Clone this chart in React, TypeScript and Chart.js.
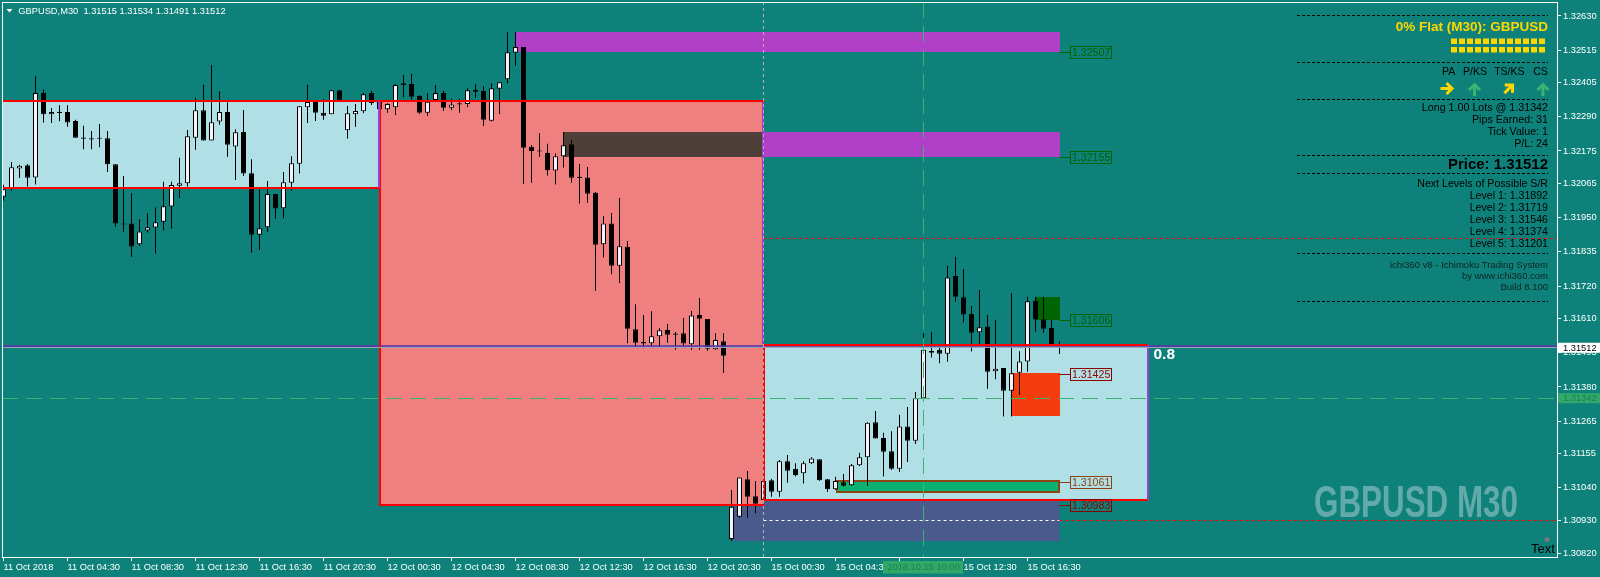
import React, { useEffect, useRef } from 'react';
import { Chart, registerables } from 'chart.js';

Chart.register(...registerables);

// ---- candle data (GBPUSD M30), bar index 0 = 11 Oct 00:30 ----
const opens = [1.32021,1.32046,1.32116,1.32127,1.32086,1.32370,1.32299,1.32304,1.32306,1.32276,
 1.32220,1.32217,1.32217,1.32218,1.32130,1.31930,1.31931,1.31861,1.31907,1.31917,
 1.31937,1.31988,1.32058,1.32066,1.32220,1.32312,1.32210,1.32274,1.32306,1.32190,
 1.32239,1.32100,1.31893,1.31918,1.32030,1.31982,1.32068,1.32132,1.32322,1.32340,
 1.32304,1.32299,1.32380,1.32245,1.32299,1.32309,1.32370,1.32340,1.32316,1.32322,
 1.32397,1.32401,1.32360,1.32304,1.32347,1.32370,1.32321,1.32333,1.32333,1.32381,
 1.32377,1.32277,1.32385,1.32417,1.32506,1.32525,1.32189,1.32176,1.32168,1.32109,
 1.32157,1.32198,1.32087,1.32086,1.32034,1.31861,1.31931,1.31788,1.31852,1.31574,
 1.31531,1.31527,1.31551,1.31572,1.31559,1.31561,1.31524,1.31622,1.31609,1.31507,
 1.31534,1.30868,1.30943,1.31069,1.31012,1.30999,1.31066,1.31027,1.31130,1.31104,
 1.31089,1.31123,1.31136,1.31069,1.31035,1.31059,1.31049,1.31116,1.31143,1.31261,
 1.31208,1.31163,1.31104,1.31247,1.31199,1.31342,1.31501,1.31505,1.31492,1.31754,
 1.31682,1.31626,1.31564,1.31584,1.31433,1.31444,1.31367,1.31428,1.31466,1.31670,
 1.31608,1.31579,1.31515];
const highs = [1.32061,1.32138,1.32129,1.32131,1.32428,1.32383,1.32320,1.32329,1.32329,1.32280,
 1.32260,1.32242,1.32266,1.32242,1.32130,1.32091,1.32033,1.31945,1.31965,1.31985,
 1.32071,1.32071,1.32152,1.32246,1.32354,1.32398,1.32465,1.32376,1.32339,1.32248,
 1.32313,1.32147,1.32048,1.32074,1.32030,1.32104,1.32157,1.32326,1.32398,1.32340,
 1.32350,1.32380,1.32380,1.32327,1.32333,1.32370,1.32378,1.32343,1.32336,1.32401,
 1.32431,1.32435,1.32363,1.32370,1.32397,1.32378,1.32351,1.32351,1.32386,1.32401,
 1.32394,1.32403,1.32407,1.32575,1.32575,1.32525,1.32194,1.32235,1.32199,1.32167,
 1.32239,1.32212,1.32131,1.32121,1.32037,1.31956,1.31966,1.32017,1.31872,1.31659,
 1.31622,1.31635,1.31579,1.31592,1.31565,1.31612,1.31636,1.31680,1.31609,1.31561,
 1.31561,1.31033,1.31075,1.31097,1.31063,1.31063,1.31071,1.31134,1.31151,1.31123,
 1.31130,1.31143,1.31136,1.31071,1.31077,1.31087,1.31120,1.31158,1.31261,1.31299,
 1.31226,1.31231,1.31286,1.31312,1.31363,1.31561,1.31566,1.31516,1.31788,1.31819,
 1.31777,1.31653,1.31707,1.31622,1.31606,1.31444,1.31696,1.31500,1.31684,1.31684,
 1.31684,1.31606,1.31534];
const lows = [1.32008,1.32041,1.32084,1.32055,1.32062,1.32271,1.32269,1.32275,1.32257,1.32220,
 1.32181,1.32181,1.32188,1.32104,1.31920,1.31902,1.31819,1.31855,1.31900,1.31830,
 1.31907,1.31913,1.32017,1.32055,1.32179,1.32210,1.32210,1.32263,1.32156,1.32077,
 1.32091,1.31832,1.31841,1.31902,1.31947,1.31948,1.32041,1.32099,1.32269,1.32276,
 1.32280,1.32299,1.32345,1.32217,1.32257,1.32302,1.32330,1.32316,1.32304,1.32296,
 1.32356,1.32347,1.32300,1.32293,1.32347,1.32311,1.32313,1.32304,1.32322,1.32354,
 1.32259,1.32274,1.32300,1.32403,1.32462,1.32064,1.32068,1.32156,1.32092,1.32062,
 1.32119,1.32068,1.31998,1.32001,1.31704,1.31816,1.31760,1.31730,1.31527,1.31511,
 1.31510,1.31516,1.31511,1.31529,1.31505,1.31516,1.31505,1.31505,1.31502,1.31505,
 1.31428,1.30861,1.30939,1.30939,1.30954,1.30999,1.31010,1.31010,1.31057,1.31078,
 1.31055,1.31120,1.31064,1.31026,1.31033,1.31044,1.31046,1.31114,1.31046,1.31206,
 1.31078,1.31100,1.31093,1.31127,1.31188,1.31342,1.31479,1.31460,1.31465,1.31667,
 1.31597,1.31499,1.31525,1.31374,1.31406,1.31280,1.31280,1.31353,1.31431,1.31566,
 1.31563,1.31525,1.31491];
const closes = [1.32046,1.32120,1.32125,1.32085,1.32370,1.32299,1.32306,1.32306,1.32271,1.32220,
 1.32217,1.32215,1.32219,1.32130,1.31931,1.31928,1.31853,1.31904,1.31918,1.31935,
 1.31989,1.32060,1.32066,1.32225,1.32312,1.32210,1.32272,1.32306,1.32196,1.32238,
 1.32099,1.31893,1.31915,1.32030,1.31981,1.32070,1.32134,1.32326,1.32340,1.32304,
 1.32294,1.32380,1.32345,1.32302,1.32310,1.32366,1.32337,1.32316,1.32333,1.32397,
 1.32403,1.32358,1.32304,1.32341,1.32370,1.32321,1.32332,1.32335,1.32380,1.32375,
 1.32280,1.32386,1.32407,1.32508,1.32525,1.32186,1.32175,1.32174,1.32111,1.32157,
 1.32194,1.32085,1.32085,1.32031,1.31859,1.31931,1.31788,1.31854,1.31576,1.31529,
 1.31526,1.31551,1.31571,1.31556,1.31557,1.31526,1.31621,1.31610,1.31509,1.31538,
 1.31485,1.30976,1.31075,1.31010,1.30986,1.31063,1.31027,1.31130,1.31098,1.31083,
 1.31123,1.31139,1.31066,1.31035,1.31063,1.31047,1.31116,1.31143,1.31259,1.31206,
 1.31162,1.31104,1.31247,1.31199,1.31342,1.31505,1.31495,1.31492,1.31749,1.31684,
 1.31624,1.31563,1.31581,1.31431,1.31441,1.31367,1.31426,1.31466,1.31669,1.31607,
 1.31576,1.31525,1.31512];

// ---- axes ----
const xTickBars = [0, 8, 16, 24, 32, 40, 48, 56, 64, 72, 80, 88, 96, 104, 112, 120, 128];
const xTickLabels = ['11 Oct 2018', '11 Oct 04:30', '11 Oct 08:30', '11 Oct 12:30', '11 Oct 16:30',
  '11 Oct 20:30', '12 Oct 00:30', '12 Oct 04:30', '12 Oct 08:30', '12 Oct 12:30', '12 Oct 16:30',
  '12 Oct 20:30', '15 Oct 00:30', '15 Oct 04:30', '15 Oct 08:30', '15 Oct 12:30', '15 Oct 16:30'];
const yTickValues = [1.32630, 1.32515, 1.32405, 1.32290, 1.32175, 1.32065, 1.31950, 1.31835,
  1.31720, 1.31610, 1.31495, 1.31380, 1.31265, 1.31155, 1.31040, 1.30930, 1.30820];
const yMin = 1.30807;
const yMax = 1.32677;
const xMin = -0.1875;
const xMax = 194.1875;

// ---- framed boxes (left blue, salmon, right blue) ----
const frameStart = [-2, 47, 95];
const frameEnd = [47, 95, 143];
const frameTop = [1.32342, 1.32342, 1.31520];
const frameBottom = [1.32050, 1.30982, 1.30998];
const frameFill = ['#b0e0e6', '#f08080', '#b0e0e6'];

// ---- slate zone behind ----
const slateStart = 91.2;
const slateEnd = 132;
const slateTop = 1.30996;
const slateBottom = 1.30861;

// ---- supply / demand zones ----
const zoneStart = [64, 95, 70, 129, 126, 104];
const zoneEnd = [132, 132, 95, 132, 132, 132];
const zoneTop = [1.32576, 1.32238, 1.32238, 1.31683, 1.31427, 1.31065];
const zoneBottom = [1.32507, 1.32155, 1.32155, 1.31606, 1.31283, 1.31022];
const zoneFill = ['#b040c6', '#b040c6', '#4e4038', '#006400', '#f43c0e', '#0ab170'];
const zoneBorder = ['', '', '', '', '', '#8b4513'];

// ---- price tags ----
const tagPrices = [1.32507, 1.32155, 1.31606, 1.31425, 1.31061, 1.30983];
const tagColors = ['#006400', '#006400', '#006400', '#8b0000', '#8b4513', '#8b0000'];

// ---- levels ----
const lastBar = 132;
const separatorBar = 95;
const crosshairBar = 115;
const fibLevel = 1.31518;
const fibText = '0.8';
const bidPrice = 1.31512;
const entryPrice = 1.31342;
const resistDashed = 1.31882;
const lowDashed = 1.30930;
const header = ['GBPUSD,M30', '1.31515', '1.31534', '1.31491', '1.31512'];
const srLevels = [1.31892, 1.31719, 1.31546, 1.31374, 1.31201];

const FONT = "'Liberation Sans', Arial, sans-serif";
const BG = '#0e827a';

function seg(ctx: any, x1: number, y1: number, x2: number, y2: number, color: string, w: number, dash: number[] = []) {
  ctx.save();
  ctx.strokeStyle = color;
  ctx.lineWidth = w;
  ctx.setLineDash(dash);
  ctx.beginPath();
  ctx.moveTo(x1, y1);
  ctx.lineTo(x2, y2);
  ctx.stroke();
  ctx.restore();
}

function arrow(ctx: any, cx: number, cy: number, ang: number, color: string) {
  ctx.save();
  ctx.translate(cx, cy);
  ctx.rotate(ang);
  ctx.strokeStyle = color;
  ctx.lineWidth = 3;
  ctx.lineCap = 'butt';
  ctx.lineJoin = 'miter';
  ctx.beginPath();
  ctx.moveTo(-6.5, 0);
  ctx.lineTo(5, 0);
  ctx.stroke();
  ctx.beginPath();
  ctx.moveTo(-0.5, -5.5);
  ctx.lineTo(5, 0);
  ctx.lineTo(-0.5, 5.5);
  ctx.stroke();
  ctx.restore();
}

function drawPanel(ctx: any) {
  const R = 1548;
  const dash = (yy: number) => seg(ctx, 1297, yy, R, yy, '#000', 1, [3, 2]);
  ctx.save();
  ctx.textAlign = 'right';
  ctx.textBaseline = 'middle';
  dash(15.5);
  ctx.fillStyle = '#ffd700';
  ctx.font = `bold 13.5px ${FONT}`;
  ctx.fillText('0% Flat (M30): GBPUSD', R, 27.5);
  for (let r = 0; r < 2; r++) {
    for (let k = 0; k < 12; k++) {
      ctx.fillRect(1451 + 8 * k, 38.5 + r * 8.5, 6, 5.5);
    }
  }
  dash(62.5);
  ctx.fillStyle = '#000';
  ctx.font = `10.5px ${FONT}`;
  ctx.textAlign = 'center';
  ctx.fillText('PA', 1448.7, 72.5);
  ctx.fillText('P/KS', 1475, 72.5);
  ctx.fillText('TS/KS', 1509.3, 72.5);
  ctx.fillText('CS', 1540.5, 72.5);
  arrow(ctx, 1447, 88.5, 0, '#ffd700');
  arrow(ctx, 1474.5, 89.5, -Math.PI / 2, '#3cb371');
  arrow(ctx, 1509, 88.5, -Math.PI / 4, '#ffd700');
  arrow(ctx, 1543, 89.5, -Math.PI / 2, '#3cb371');
  dash(99.5);
  ctx.textAlign = 'right';
  ctx.font = `10.7px ${FONT}`;
  ctx.fillText('Long 1.00 Lots @ ' + entryPrice.toFixed(5), R, 108.5);
  ctx.fillText('Pips Earned: 31', R, 120.3);
  ctx.fillText('Tick Value: 1', R, 132.2);
  ctx.fillText('P/L: 24', R, 144);
  dash(155.5);
  ctx.font = `bold 15px ${FONT}`;
  ctx.fillText('Price: ' + bidPrice.toFixed(5), R, 164.5);
  dash(173.5);
  ctx.font = `10.6px ${FONT}`;
  ctx.fillText('Next Levels of Possible S/R', R, 184.3);
  srLevels.forEach((lv, k) => ctx.fillText(`Level ${k + 1}: ${lv.toFixed(5)}`, R, 196.3 + 12 * k));
  dash(253.5);
  ctx.fillStyle = '#102222';
  ctx.font = `9.5px ${FONT}`;
  ctx.fillText('ichi360 v8 - Ichimoku Trading System', R, 265.3);
  ctx.fillText('by www.ichi360.com', R, 276.7);
  ctx.fillText('Build 8.100', R, 287);
  dash(301.5);
  ctx.restore();
}

const overlay = {
  id: 'overlay',
  beforeDraw(chart: any) {
    const { ctx, width, height } = chart;
    ctx.save();
    ctx.fillStyle = BG;
    ctx.fillRect(0, 0, width, height);
    ctx.restore();
  },
  beforeDatasetsDraw(chart: any) {
    const { ctx, chartArea: ca, scales } = chart;
    const X = (v: number) => scales.x.getPixelForValue(v);
    const Y = (v: number) => scales.y.getPixelForValue(v);
    ctx.save();
    ctx.beginPath();
    ctx.rect(ca.left, ca.top, ca.right - ca.left, ca.bottom - ca.top);
    ctx.clip();
    // watermark
    ctx.save();
    ctx.font = `bold 44px ${FONT}`;
    const w = ctx.measureText('GBPUSD M30').width;
    ctx.translate(1314, 517);
    ctx.scale(204 / w, 1);
    ctx.fillStyle = '#63abaa';
    ctx.textBaseline = 'alphabetic';
    ctx.fillText('GBPUSD M30', 0, 0);
    ctx.restore();
    // slate
    ctx.fillStyle = '#4b5a8c';
    ctx.fillRect(X(slateStart), Y(slateTop), X(slateEnd) - X(slateStart), Y(slateBottom) - Y(slateTop));
    for (let k = 0; k < frameStart.length; k++) {
      ctx.fillStyle = frameFill[k];
      const x1 = X(frameStart[k]), x2 = X(frameEnd[k]);
      const y1 = Y(frameTop[k]), y2 = Y(frameBottom[k]);
      ctx.fillRect(x1, y1, x2 - x1, y2 - y1);
    }
    for (let k = 0; k < zoneStart.length; k++) {
      const x1 = Math.round(X(zoneStart[k])), x2 = Math.round(X(zoneEnd[k]));
      const y1 = Math.round(Y(zoneTop[k])), y2 = Math.round(Y(zoneBottom[k]));
      ctx.fillStyle = zoneFill[k];
      ctx.fillRect(x1, y1, x2 - x1, y2 - y1);
      if (zoneBorder[k]) {
        ctx.strokeStyle = zoneBorder[k];
        ctx.lineWidth = 2;
        ctx.strokeRect(x1 + 1, y1 + 1, x2 - x1 - 2, y2 - y1 - 2);
      }
    }
    ctx.restore();
  },
  afterDatasetsDraw(chart: any) {
    const { ctx, chartArea: ca, scales } = chart;
    const X = (v: number) => scales.x.getPixelForValue(v);
    const Y = (v: number) => scales.y.getPixelForValue(v);
    const fx = (v: number) => Math.round(X(v));
    const fy = (v: number) => Math.round(Y(v));
    const RED = '#ff0000';
    const PUR = '#9b3fd0';
    ctx.save();
    ctx.beginPath();
    ctx.rect(ca.left, ca.top, ca.right - ca.left, ca.bottom - ca.top);
    ctx.clip();
    // fib level line
    seg(ctx, ca.left, fy(fibLevel), ca.right, fy(fibLevel), 'rgba(88,52,170,0.8)', 2);
    // frame borders
    for (let k = 0; k < frameStart.length; k++) {
      const x1 = fx(frameStart[k]), x2 = fx(frameEnd[k]);
      const y1 = fy(frameTop[k]), y2 = fy(frameBottom[k]);
      seg(ctx, x1, y1, x2, y1, RED, 2);
      seg(ctx, x1, y2, x2, y2, RED, 2);
      seg(ctx, x1, y1 - 1, x1, y2 + 1, RED, 2);
    }
    seg(ctx, fx(frameEnd[0]) - 1, fy(frameTop[0]), fx(frameEnd[0]) - 1, fy(frameBottom[0]), PUR, 2);
    seg(ctx, fx(frameEnd[1]) - 1, fy(frameTop[1]) + 1, fx(frameEnd[1]) - 1, fy(frameTop[2]) - 1, PUR, 2);
    seg(ctx, fx(frameEnd[2]), fy(frameTop[2]), fx(frameEnd[2]), fy(frameBottom[2]), PUR, 2);
    // bid line
    const by = Math.floor(Y(bidPrice)) + 0.5;
    seg(ctx, ca.left, by, ca.right, by, '#9aa4b4', 1);
    // dashed levels
    const ry = fy(resistDashed) + 0.5;
    seg(ctx, X(separatorBar), ry, ca.right, ry, RED, 1, [3, 3]);
    const ly = fy(lowDashed) + 0.5;
    seg(ctx, X(separatorBar), ly, X(lastBar), ly, '#ffffff', 1, [3, 3]);
    seg(ctx, X(lastBar), ly, ca.right, ly, RED, 1, [3, 3]);
    const ey = fy(entryPrice) + 0.5;
    seg(ctx, ca.left, ey, ca.right, ey, '#3cb371', 1, [16, 8]);
    seg(ctx, X(crosshairBar), ca.top, X(crosshairBar), ca.bottom, '#3cb371', 1, [16, 8]);
    seg(ctx, X(separatorBar), ca.top, X(separatorBar), ca.bottom, '#b8b0b0', 1, [3, 3]);
    // price tags
    ctx.font = `10.6px ${FONT}`;
    ctx.textBaseline = 'middle';
    ctx.textAlign = 'left';
    tagPrices.forEach((p, k) => {
      const yy = fy(p) + 0.5;
      const x0 = X(lastBar);
      seg(ctx, x0, yy, x0 + 11, yy, tagColors[k], 1);
      ctx.strokeStyle = tagColors[k];
      ctx.lineWidth = 1;
      ctx.strokeRect(x0 + 11, yy - 6, 41, 12);
      ctx.fillStyle = tagColors[k];
      ctx.fillText(p.toFixed(5), x0 + 12.5, yy + 0.5);
    });
    // fib text
    ctx.fillStyle = '#ffffff';
    ctx.font = `bold 15.5px ${FONT}`;
    ctx.fillText(fibText, X(frameEnd[2]) + 6, Y(fibLevel) + 8.5);
    ctx.restore();
    drawPanel(ctx);
    // header
    ctx.save();
    ctx.fillStyle = '#ffffff';
    ctx.beginPath();
    ctx.moveTo(6.5, 9);
    ctx.lineTo(12.5, 9);
    ctx.lineTo(9.5, 12.5);
    ctx.closePath();
    ctx.fill();
    ctx.font = `9.3px ${FONT}`;
    ctx.textBaseline = 'middle';
    ctx.fillText(header[0] + '  ' + header.slice(1).join(' '), 18.3, 11);
    // Text label
    ctx.fillStyle = '#000';
    ctx.font = `13px ${FONT}`;
    ctx.textBaseline = 'alphabetic';
    ctx.fillText('Text', 1531, 553);
    ctx.fillStyle = '#777';
    ctx.beginPath();
    ctx.arc(1547, 539.5, 2.5, 0, Math.PI * 2);
    ctx.fill();
    ctx.restore();
  },
  afterDraw(chart: any) {
    const { ctx, chartArea: ca, scales } = chart;
    const X = (v: number) => scales.x.getPixelForValue(v);
    const Y = (v: number) => scales.y.getPixelForValue(v);
    ctx.save();
    ctx.strokeStyle = '#ffffff';
    ctx.lineWidth = 1;
    ctx.strokeRect(ca.left + 0.5, ca.top + 0.5, ca.right - ca.left, ca.bottom - ca.top);
    // current price label
    ctx.font = `9.3px ${FONT}`;
    ctx.textBaseline = 'middle';
    ctx.textAlign = 'left';
    const bY = Y(bidPrice);
    ctx.fillStyle = '#ffffff';
    ctx.fillRect(ca.right + 1, bY - 5, 43, 10);
    ctx.fillStyle = '#000';
    ctx.fillText(bidPrice.toFixed(5), ca.right + 6, bY + 0.5);
    const eY = Y(entryPrice);
    ctx.fillStyle = '#32a96a';
    ctx.fillRect(ca.right + 1, eY - 5, 43, 10);
    ctx.fillStyle = '#1e7e4e';
    ctx.fillText(entryPrice.toFixed(5), ca.right + 6, eY + 0.5);
    // crosshair date box
    const cx = X(crosshairBar);
    ctx.fillStyle = '#30a868';
    ctx.fillRect(cx - 40.5, ca.bottom + 4, 80, 12.5);
    ctx.fillStyle = '#237e4f';
    ctx.textAlign = 'center';
    ctx.fillText('2018.10.15 10:00', cx, ca.bottom + 10.5);
    ctx.restore();
  },
};

export default function App() {
  const ref = useRef<HTMLCanvasElement>(null);
  useEffect(() => {
    const canvas = ref.current as HTMLCanvasElement;
    const wickData = opens.map((_, i) => ({ x: i, y: [lows[i], highs[i]] }));
    const bodyData = opens.map((o, i) => {
      let lo = Math.min(o, closes[i]);
      let hi = Math.max(o, closes[i]);
      if (hi - lo < 0.00004) {
        const m = (hi + lo) / 2;
        lo = m - 0.00002;
        hi = m + 0.00002;
      }
      return { x: i, y: [lo, hi] };
    });
    const bodyColors = opens.map((o, i) => (closes[i] >= o ? '#f2f2fa' : '#000000'));
    const chart = new Chart(canvas, {
      type: 'bar',
      data: {
        datasets: [
          {
            label: 'body', data: bodyData as any, backgroundColor: bodyColors, borderColor: '#000000',
            borderWidth: 1, borderSkipped: false, barThickness: 5, grouped: false, order: 0, inflateAmount: 0,
          } as any,
          {
            label: 'wick', data: wickData as any, backgroundColor: '#000000', borderWidth: 0,
            barThickness: 1, grouped: false, order: 1, inflateAmount: 0,
          } as any,
        ],
      },
      options: {
        responsive: false,
        animation: false,
        devicePixelRatio: 1,
        events: [],
        layout: { padding: { left: 2, top: 2, right: 0, bottom: 0 }, autoPadding: false } as any,
        plugins: { legend: { display: false }, tooltip: { enabled: false } },
        scales: {
          x: {
            type: 'linear', min: xMin, max: xMax, offset: false, position: 'bottom', bounds: 'data',
            afterFit: (s: any) => { s.height = 20; s.paddingLeft = 0; s.paddingRight = 0; },
            afterBuildTicks: (s: any) => { s.ticks = xTickBars.map((v) => ({ value: v })); },
            ticks: {
              autoSkip: false, maxRotation: 0, minRotation: 0, align: 'start', padding: 1,
              color: '#ffffff', font: { family: FONT, size: 9.3 },
              callback: (_v: any, idx: number) => xTickLabels[idx],
            },
            grid: { drawOnChartArea: false, color: '#ffffff', tickLength: 4, offset: false },
            border: { display: false },
          } as any,
          y: {
            type: 'linear', position: 'right', min: yMin, max: yMax, beginAtZero: false, bounds: 'data',
            afterFit: (s: any) => { s.width = 43; s.paddingTop = 0; s.paddingBottom = 0; },
            afterBuildTicks: (s: any) => { s.ticks = yTickValues.map((v) => ({ value: v })); },
            ticks: {
              autoSkip: false, padding: 2, color: '#ffffff', font: { family: FONT, size: 9.3 },
              callback: (v: any) => Number(v).toFixed(5),
            },
            grid: { drawOnChartArea: false, color: '#ffffff', tickLength: 4 },
            border: { display: false },
          } as any,
        },
      },
      plugins: [overlay as any],
    });
    return () => chart.destroy();
  }, []);
  return (
    <div style={{ position: 'absolute', left: 0, top: 0, width: 1600, height: 577 }}>
      <canvas ref={ref} width={1600} height={577} style={{ display: 'block', width: 1600, height: 577 }} />
    </div>
  );
}
